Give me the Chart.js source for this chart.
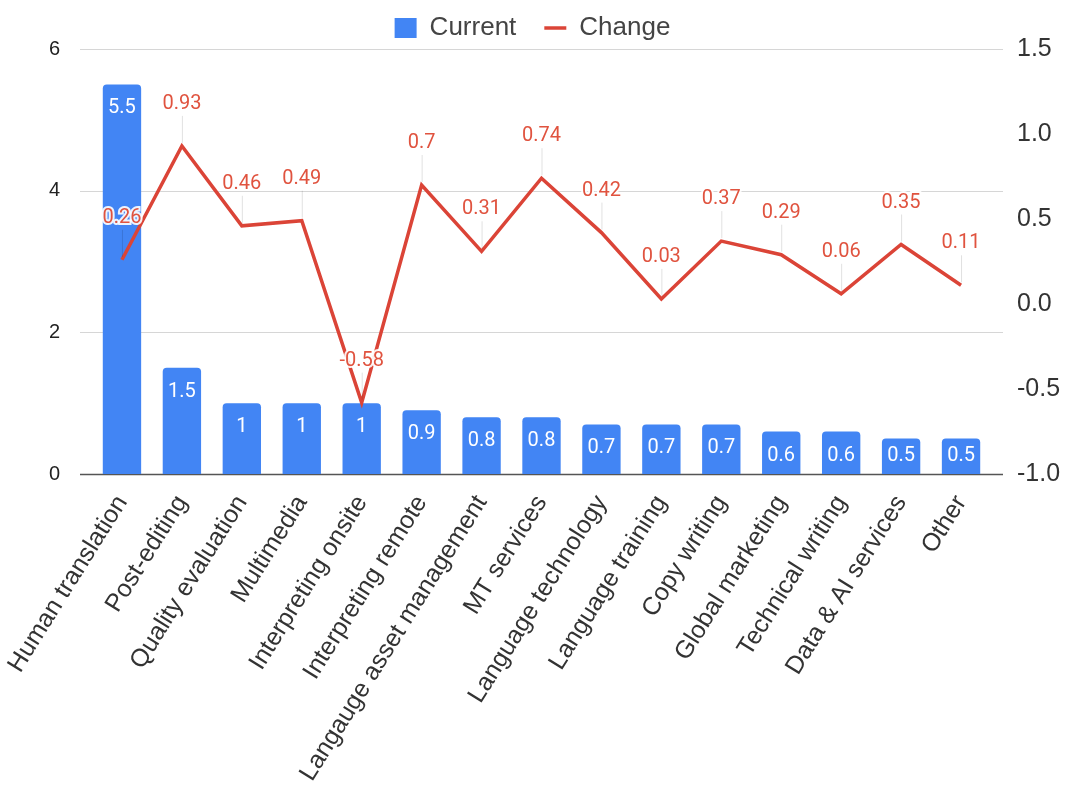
<!DOCTYPE html>
<html>
<head>
<meta charset="utf-8">
<script src="https://cdn.jsdelivr.net/npm/chart.js@4.4.1/dist/chart.umd.min.js"></script>
<style>
  html, body { margin: 0; padding: 0; background: #fff; }
  #wrap { width: 1065px; height: 795px; }
</style>
</head>
<body>
<div id="wrap"><canvas id="myChart" width="1065" height="795"></canvas></div>
<script>
// data
const categories = ["Human translation", "Post-editing", "Quality evaluation", "Multimedia",
  "Interpreting onsite", "Interpreting remote", "Langauge asset management", "MT services",
  "Language technology", "Language training", "Copy writing", "Global marketing",
  "Technical writing", "Data & AI services", "Other"];
const currentValues = [5.5, 1.5, 1, 1, 1, 0.9, 0.8, 0.8, 0.7, 0.7, 0.7, 0.6, 0.6, 0.5, 0.5];
const changeValues = [0.26, 0.93, 0.46, 0.49, -0.58, 0.7, 0.31, 0.74, 0.42, 0.03, 0.37, 0.29, 0.06, 0.35, 0.11];
const leftTicks = [0, 2, 4, 6];
const rightTicks = [-1.0, -0.5, 0.0, 0.5, 1.0, 1.5];

const BLUE = "#4285f4";
const RED = "#db4437";
const FONT = "'Liberation Sans', Arial, sans-serif";

// horizontal grid lines, a bit wider than the plot like the original
const gridPlugin = {
  id: "gridLines",
  beforeDatasetsDraw(chart) {
    const ctx = chart.ctx, area = chart.chartArea, ys = chart.scales.y;
    ctx.save();
    leftTicks.forEach(v => {
      const py = Math.round(ys.getPixelForValue(v)) + 0.5;
      ctx.beginPath();
      ctx.strokeStyle = v === 0 ? "#555" : "#d6d6d6";
      ctx.lineWidth = v === 0 ? 1.5 : 1.2;
      ctx.moveTo(area.left - 12, py);
      ctx.lineTo(area.right + 12, py);
      ctx.stroke();
    });
    ctx.restore();
  }
};

// value labels: white inside the bars, red above the line points
const labelPlugin = {
  id: "valueLabels",
  afterDatasetsDraw(chart) {
    const ctx = chart.ctx;
    ctx.save();
    ctx.textAlign = "center";
    ctx.textBaseline = "middle";

    const bars = chart.getDatasetMeta(0).data;
    ctx.font = "20px 'Roboto', " + FONT;
    ctx.fillStyle = "#ffffff";
    bars.forEach((b, i) => {
      const ty = Math.min(b.y + 24, b.base - 18);
      ctx.fillText(String(currentValues[i]), b.x, ty);
    });

    const pts = chart.getDatasetMeta(1).data;
    pts.forEach((p, i) => {
      ctx.beginPath();
      ctx.strokeStyle = "rgba(0,0,0,0.12)";
      ctx.lineWidth = 1;
      ctx.moveTo(p.x + 0.5, p.y - 3);
      ctx.lineTo(p.x + 0.5, p.y - 30);
      ctx.stroke();
      const txt = String(changeValues[i]);
      ctx.lineWidth = 4;
      ctx.strokeStyle = "rgba(255,255,255,0.9)";
      ctx.strokeText(txt, p.x, p.y - 42);
      ctx.fillStyle = "#e0533f";
      ctx.fillText(txt, p.x, p.y - 42);
    });
    ctx.restore();
  }
};

// fixed legend band height, and lift the legend row a little
const legendTweak = {
  id: "legendTweak",
  beforeInit(chart) {
    const fit = chart.legend.fit;
    chart.legend.fit = function () {
      fit.bind(chart.legend)();
      this.height = 49;
    };
  },
  afterLayout(chart) {
    chart.legend.top = -13;
  }
};

const ctx = document.getElementById("myChart").getContext("2d");
new Chart(ctx, {
  type: "bar",
  data: {
    labels: categories,
    datasets: [
      {
        label: "Current",
        data: currentValues,
        backgroundColor: BLUE,
        borderRadius: { topLeft: 4, topRight: 4, bottomLeft: 0, bottomRight: 0 },
        borderSkipped: "bottom",
        categoryPercentage: 1.0,
        barPercentage: 0.64,
        yAxisID: "y",
        pointStyle: "rect",
        order: 1
      },
      {
        type: "line",
        label: "Change",
        data: changeValues,
        borderColor: RED,
        backgroundColor: RED,
        borderWidth: 3.5,
        pointRadius: 0,
        tension: 0,
        yAxisID: "y1",
        pointStyle: "line",
        order: 0
      }
    ]
  },
  options: {
    responsive: false,
    animation: false,
    layout: { padding: 0 },
    plugins: {
      legend: {
        position: "top",
        labels: {
          usePointStyle: true,
          pointStyleWidth: 22,
          boxHeight: 20,
          padding: 28,
          color: "#444",
          font: { family: FONT, size: 26 },
          sort: (a, b) => a.datasetIndex - b.datasetIndex
        }
      },
      tooltip: { enabled: false }
    },
    scales: {
      x: {
        grid: { display: false },
        border: { display: false },
        ticks: {
          color: "#333",
          font: { family: FONT, size: 25 },
          maxRotation: 58,
          minRotation: 58,
          autoSkip: false,
          padding: 8
        },
        afterFit: s => { s.height = 321; }
      },
      y: {
        position: "left",
        min: 0,
        max: 6,
        grid: { display: false },
        border: { display: false },
        ticks: {
          stepSize: 2,
          color: "#222",
          padding: 24,
          font: { family: FONT, size: 20 }
        },
        afterFit: s => { s.width = 92; }
      },
      y1: {
        position: "right",
        min: rightTicks[0],
        max: rightTicks[rightTicks.length - 1],
        grid: { display: false },
        border: { display: false },
        ticks: {
          stepSize: 0.5,
          color: "#333",
          padding: 18,
          font: { family: FONT, size: 25 },
          callback: v => Number(v).toFixed(1)
        },
        afterFit: s => { s.width = 74; }
      }
    }
  },
  plugins: [gridPlugin, labelPlugin, legendTweak]
});
</script>
</body>
</html>
